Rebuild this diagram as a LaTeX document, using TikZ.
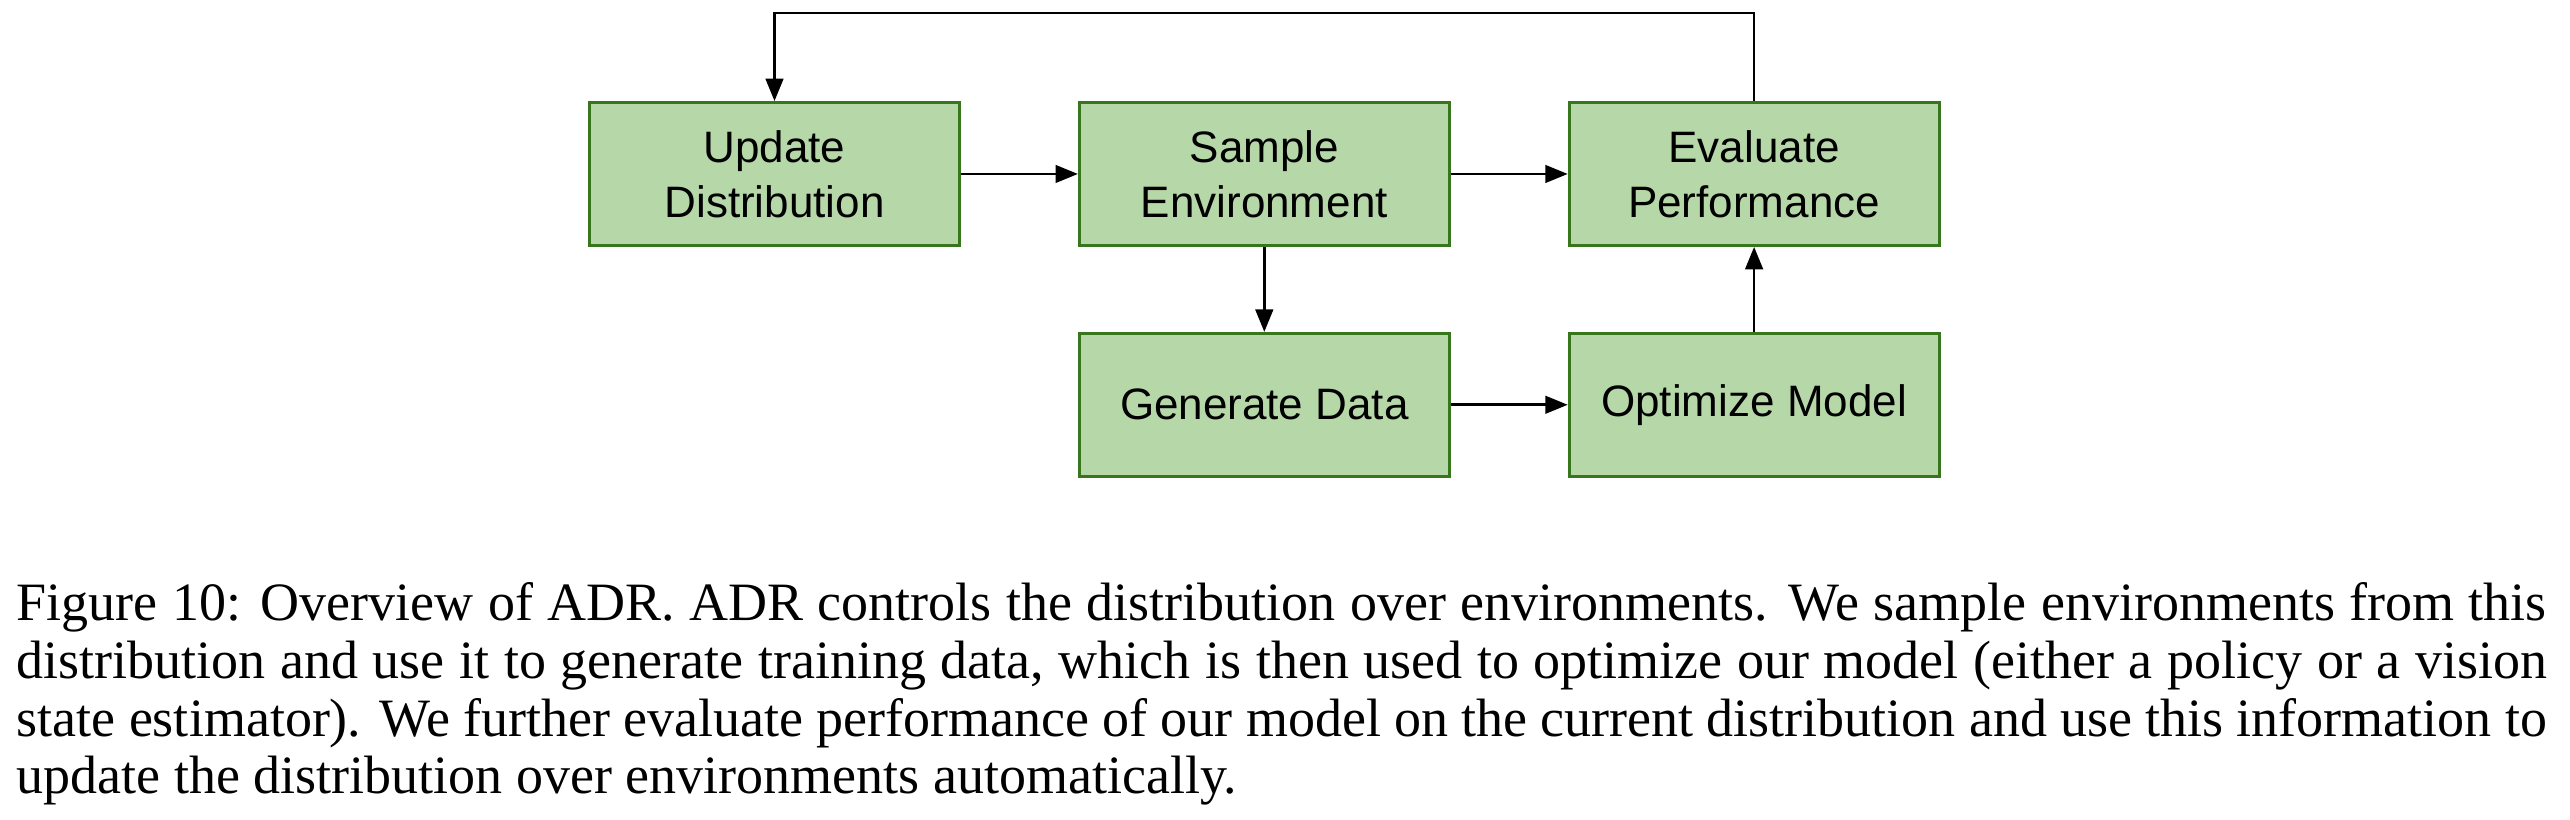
\documentclass[tikz,border=0pt]{standalone}
\usepackage{fontspec}
\setmainfont{Liberation Serif}
\newfontfamily\boxfont{Liberation Sans}
\usetikzlibrary{arrows.meta, positioning}
\definecolor{boxgreen}{HTML}{B6D7A8}
\definecolor{edgegreen}{HTML}{38761D}

\begin{document}
\begin{tikzpicture}[x=0.25pt, y=0.25pt, >={Triangle[length=5.6pt, width=4.4pt]}]
    \def \gapx {29.25pt}
    \def \gapy {21.25pt}
    \tikzstyle{stage}=[draw=edgegreen, fill=boxgreen, line width=0.7pt, minimum width=92.5pt, minimum height=35.75pt, inner sep=0pt, align=center, font=\boxfont\fontsize{11pt}{13.75pt}\selectfont];
    \tikzstyle{flow}=[->, line width=0.65pt];
    \useasboundingbox (0,0) rectangle (2570,820);
    \node[stage] (upd) at (774.5, 646) {Update\\Distribution};
    \node[stage, right=\gapx of upd] (smp) {Sample\\Environment};
    \node[stage, right=\gapx of smp] (evl) {Evaluate\\Performance};
    \node[stage, below=\gapy of smp] (gen) {Generate Data};
    \node[stage, below=\gapy of evl] (opt) {Optimize Model};
    \draw[flow] (upd) -- (smp);
    \draw[flow] (smp) -- (evl);
    \draw[flow] (smp) -- (gen);
    \draw[flow] (gen) -- (opt);
    \draw[flow] (opt) -- (evl);
    % feedback loop over the top
    \draw[flow] (evl.north) -- ++(0,88) -| (upd.north);
    % caption
    \node[anchor=base west, inner sep=0pt] (cap) at (16, 199) {\parbox[t]{632.5pt}{\fontsize{13.5pt}{14.4pt}\selectfont
        Figure 10: Overview of ADR. ADR controls the distribution over environments. We sample environments from this\linebreak
        distribution and use it to generate training data, which is then used to optimize our model (either a policy or a vision\linebreak
        state estimator). We further evaluate performance of our model on the current distribution and use this information to\linebreak
        update the distribution over environments automatically.}};
\end{tikzpicture}
\end{document}
